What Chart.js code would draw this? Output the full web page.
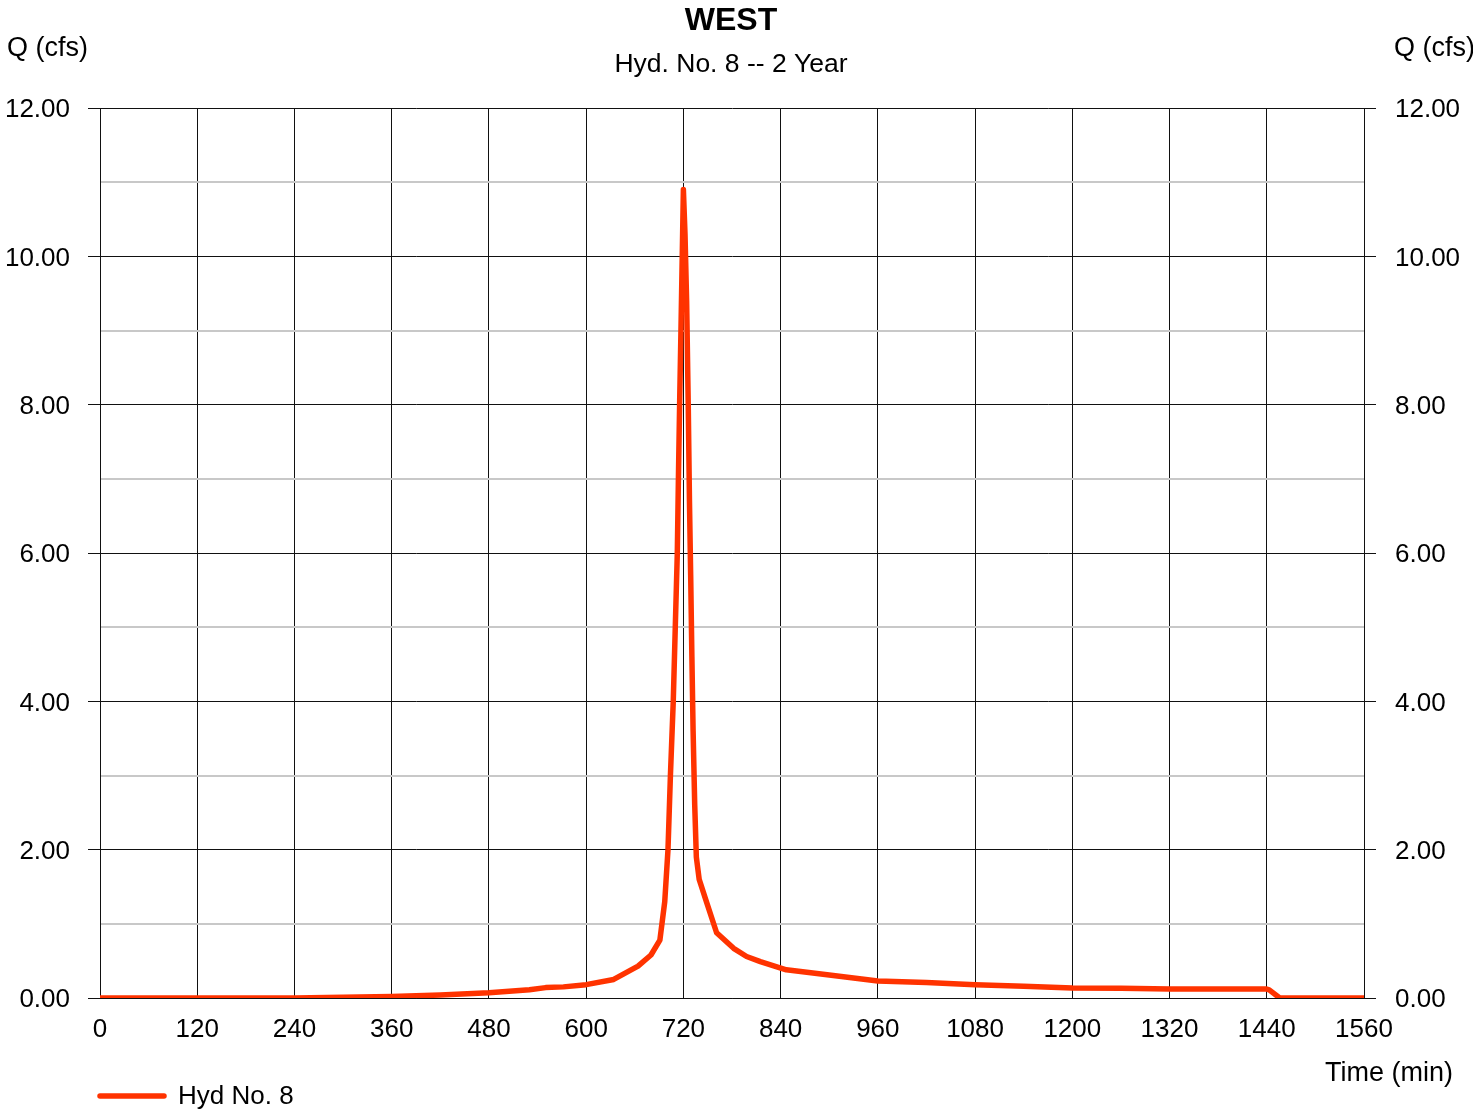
<!DOCTYPE html>
<html>
<head>
<meta charset="utf-8">
<title>WEST - Hyd. No. 8 -- 2 Year</title>
<script src="https://cdn.jsdelivr.net/npm/chart.js"></script>
<style>
    html, body { margin: 0; padding: 0; background: #fff; }
    #wrap { width: 1473px; height: 1114px; position: relative; }
</style>
</head>
<body>
<div id="wrap"><canvas id="hydChart" width="1473" height="1114"></canvas></div>
<script>
// 文本
const chartTitle = 'WEST';
const chartSubtitle = 'Hyd. No. 8 -- 2 Year';
const yAxisLabel = 'Q (cfs)';
const xAxisLabel = 'Time (min)';
const seriesName = 'Hyd No. 8';

// 水文过程线数据 (时间 min, 流量 cfs)
const timeMin = [0, 240, 300, 360, 420, 480, 530, 550, 572, 600, 634, 664, 680, 691,
    697, 701, 704, 707.5, 710, 712.5, 714, 715.5, 717, 720, 722, 724, 726, 727.5,
    729, 730.5, 732, 734, 736, 739.5, 749, 761, 782, 798, 815, 847, 900, 960,
    1020, 1080, 1140, 1200, 1260, 1320, 1380, 1440, 1443, 1456, 1560];
const flowCfs = [0, 0, 0.01, 0.02, 0.04, 0.07, 0.11, 0.14, 0.15, 0.18, 0.25, 0.43, 0.58, 0.78,
    1.3, 2.0, 3.0, 4.0, 5.0, 6.0, 7.1, 8.1, 9.0, 10.9, 10.3, 9.4, 8.0, 6.7,
    5.7, 4.6, 3.6, 2.6, 1.9, 1.6, 1.28, 0.88, 0.67, 0.56, 0.49, 0.38, 0.31, 0.23,
    0.21, 0.18, 0.16, 0.135, 0.13, 0.12, 0.12, 0.12, 0.11, 0, 0];

// 刻度
const xTickValues = [0, 120, 240, 360, 480, 600, 720, 840, 960, 1080, 1200, 1320, 1440, 1560];
const yMajorTicks = [0, 2, 4, 6, 8, 10, 12];
const yMinorTicks = [1, 3, 5, 7, 9, 11];

const FONT = '"Liberation Sans", Arial, sans-serif';
Chart.defaults.font.family = FONT;
Chart.defaults.color = '#000';

const isMajor = v => yMajorTicks.includes(v);
const yTicksBuilder = scale => {
    scale.ticks = yMajorTicks.concat(yMinorTicks).sort((a, b) => a - b).map(v => ({ value: v }));
};
const yLabel = v => isMajor(v) ? v.toFixed(2) : '';

// 标题、轴名、图例
const textPlugin = {
    id: 'hydTexts',
    afterDraw(chart) {
        const ctx = chart.ctx;
        ctx.save();
        ctx.fillStyle = '#000';
        ctx.textBaseline = 'middle';

        ctx.textAlign = 'center';
        ctx.font = 'bold 32px ' + FONT;
        ctx.fillText(chartTitle, 731, 21);
        ctx.font = '26.5px ' + FONT;
        ctx.fillText(chartSubtitle, 731, 65);

        ctx.textAlign = 'left';
        ctx.font = '27px ' + FONT;
        ctx.fillText(yAxisLabel, 7, 49);
        ctx.fillText(yAxisLabel, 1394, 49);
        ctx.fillText(xAxisLabel, 1325, 1074);

        ctx.strokeStyle = '#ff3300';
        ctx.lineWidth = 5.5;
        ctx.lineCap = 'round';
        ctx.beginPath();
        ctx.moveTo(100, 1096);
        ctx.lineTo(164, 1096);
        ctx.stroke();
        ctx.font = '26px ' + FONT;
        ctx.fillText(seriesName, 178, 1097);
        ctx.restore();
    }
};

const gridColor = c => isMajor(c.tick.value) ? '#111' : '#c8c8c8';
const gridWidth = c => isMajor(c.tick.value) ? 1 : 2;
const tickColor = c => isMajor(c.tick.value) ? '#111' : 'rgba(0,0,0,0)';

new Chart(document.getElementById('hydChart'), {
    type: 'line',
    data: {
        datasets: [{
            label: seriesName,
            data: timeMin.map((t, i) => ({ x: t, y: flowCfs[i] })),
            borderColor: '#ff3300',
            backgroundColor: '#ff3300',
            borderWidth: 5.5,
            borderJoinStyle: 'round',
            borderCapStyle: 'round',
            pointRadius: 0,
            tension: 0,
            fill: false,
            yAxisID: 'y'
        }]
    },
    options: {
        responsive: false,
        animation: false,
        layout: { padding: { top: 108, left: 0, right: 0, bottom: 0 } },
        plugins: {
            legend: { display: false },
            title: { display: false },
            tooltip: { enabled: false }
        },
        scales: {
            x: {
                type: 'linear',
                min: 0,
                max: 1560,
                afterFit: s => { s.height = 116; },
                afterBuildTicks: s => { s.ticks = xTickValues.map(v => ({ value: v })); },
                ticks: { callback: v => String(v), font: { size: 26 }, color: '#000', padding: 16, maxRotation: 0 },
                grid: { color: '#111', lineWidth: 1, drawTicks: false },
                border: { color: '#111', width: 1 }
            },
            y: {
                position: 'left',
                min: 0,
                max: 12,
                afterFit: s => { s.width = 100; },
                afterBuildTicks: yTicksBuilder,
                ticks: { callback: yLabel, font: { size: 26 }, color: '#000', padding: 18, labelOffset: 2 },
                grid: { color: gridColor, lineWidth: gridWidth, tickColor: tickColor, tickLength: 12 },
                border: { color: '#111', width: 1 }
            },
            y2: {
                position: 'right',
                min: 0,
                max: 12,
                afterFit: s => { s.width = 109; },
                afterBuildTicks: yTicksBuilder,
                ticks: { callback: yLabel, font: { size: 26 }, color: '#000', padding: 19, labelOffset: 2 },
                grid: { drawOnChartArea: false, tickColor: tickColor, tickLength: 12 },
                border: { color: '#111', width: 1 }
            }
        }
    },
    plugins: [textPlugin]
});
</script>
</body>
</html>
